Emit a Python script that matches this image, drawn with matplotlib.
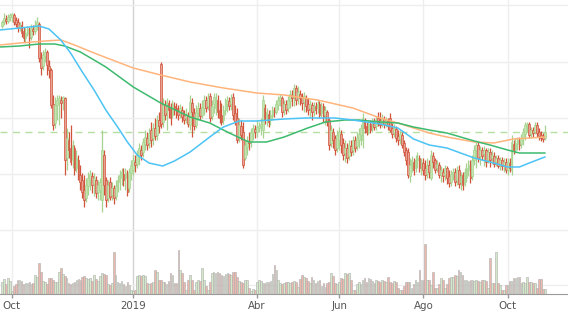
import numpy as np
import pandas as pd
import matplotlib
matplotlib.use("Agg")
import matplotlib.pyplot as plt

# trading calendar (Spanish market holidays removed)
holidays = ["2018-12-24", "2018-12-25", "2018-12-26", "2018-12-31",
            "2019-01-01", "2019-04-19", "2019-04-22", "2019-05-01"]
dates = pd.bdate_range("2018-09-24", "2019-10-28", freq="C", holidays=holidays)

tick_months = ["2018-10", "2019-01", "2019-04", "2019-06", "2019-08", "2019-10"]
tick_labels = ["Oct", "2019", "Abr", "Jun", "Ago", "Oct"]

opens = [
    27.4, 27.8, 28.1, 27.9, 28.3,
    28.3, 28.5, 28.0, 27.8, 27.3, 27.5, 26.9, 26.2, 26.6, 27.0, 26.3, 27.1, 26.9, 27.4, 27.6, 24.2, 23.4, 24.4, 24.8, 23.4, 23.0, 19.6, 17.7,
    19.5, 19.8, 20.0, 20.0, 20.2, 14.2, 16.0, 15.2, 14.0, 15.2, 13.2, 14.0, 12.5, 12.0, 11.0, 10.2, 11.4, 12.0, 12.4, 11.6, 12.0, 10.8,
    11.0, 10.0, 14.5, 12.0, 10.2, 11.8, 10.5, 11.2, 10.4, 11.2, 11.8, 12.2, 12.6, 12.2, 12.6, 11.2, 12.7,
    13.0, 13.8, 13.6, 14.4, 15.0, 14.8, 15.6, 16.2, 15.7, 17.0, 16.2, 17.2, 16.5, 18.0, 23.6, 17.8, 19.5, 18.8, 19.7, 19.2, 18.5, 19.4,
    19.2, 19.0, 18.7, 19.0, 18.5, 18.2, 18.4, 17.5, 19.7, 18.7, 17.5, 18.7, 19.2, 18.5, 19.2, 20.0, 19.4, 20.4, 18.4, 19.6,
    19.2, 20.0, 19.0, 18.5, 18.0, 19.0, 19.6, 19.9, 19.6, 20.3, 18.7, 18.2, 16.2, 17.4, 16.8, 14.2, 15.3, 15.9, 15.8, 16.7, 17.1,
    16.8, 17.2, 17.4, 17.0, 19.2, 18.2, 18.6, 18.0, 18.4, 18.9, 18.8, 19.5, 20.0, 20.2, 19.0, 19.6, 19.2, 19.9, 20.5, 20.3,
    21.2, 20.2, 20.6, 20.3, 19.8, 20.2, 19.6, 19.2, 19.5, 19.0, 19.4, 19.2, 19.6, 18.7, 19.4, 18.5, 18.8, 18.0, 15.7, 16.8, 16.2, 15.2,
    16.0, 16.6, 15.7, 14.7, 15.2, 14.4, 15.4, 15.0, 16.0, 15.4, 16.0, 16.5, 16.0, 18.0, 17.4, 17.0, 17.6, 17.2, 17.8, 17.4,
    18.2, 18.0, 17.7, 18.1, 17.7, 17.9, 18.2, 17.2, 16.7, 17.1, 16.4, 16.1, 16.5, 15.7, 15.0, 14.8, 12.4, 13.4, 13.8, 13.2, 14.0, 14.2, 13.4,
    13.7, 13.2, 12.6, 13.5, 12.2, 14.4, 14.0, 13.2, 13.5, 12.5, 12.8, 12.5, 13.2, 12.4, 11.8, 12.6, 12.8, 12.0, 13.0, 11.8, 12.5, 11.6,
    12.2, 13.0, 13.5, 12.4, 14.0, 15.0, 15.5, 14.4, 15.0, 14.6, 15.0, 14.0, 14.8, 14.2, 14.4, 13.8, 14.2, 13.5, 14.0, 13.5, 13.8,
    13.0, 13.7, 13.0, 15.6, 15.0, 15.6, 15.9, 15.6, 16.2, 16.6, 17.4, 17.6, 16.6, 17.0, 16.8, 17.5, 16.8, 16.5, 16.4, 16.2,
]
highs = [
    28.0, 28.7, 28.5, 28.6, 28.7,
    28.7, 28.7, 28.3, 28.2, 27.8, 27.9, 27.3, 27.2, 27.4, 27.3, 27.6, 27.5, 28.0, 28.3, 27.8, 24.8, 25.0, 25.2, 25.0, 24.0, 23.2, 20.5, 20.3,
    20.5, 20.5, 20.4, 20.4, 20.3, 17.2, 16.8, 17.5, 16.0, 15.5, 15.0, 14.5, 13.5, 12.7, 12.5, 12.2, 12.8, 13.0, 12.8, 12.7, 12.4, 12.0,
    12.2, 17.0, 15.0, 12.3, 12.0, 12.3, 11.8, 11.5, 12.0, 12.5, 13.0, 13.2, 13.2, 13.2, 13.0, 13.2, 14.0,
    14.5, 14.5, 15.0, 15.7, 15.5, 16.2, 17.0, 16.8, 17.2, 17.8, 17.7, 18.2, 18.5, 18.8, 23.8, 20.2, 20.0, 20.2, 20.0, 19.7, 20.0, 19.8,
    19.7, 19.5, 19.6, 19.4, 19.0, 19.2, 18.8, 20.5, 20.2, 19.2, 19.5, 19.8, 19.7, 20.0, 20.5, 20.4, 20.7, 20.7, 20.0, 20.7,
    20.7, 20.5, 20.0, 19.7, 19.5, 20.2, 20.4, 20.3, 20.6, 20.7, 19.5, 19.2, 18.2, 18.0, 17.8, 16.0, 16.4, 16.8, 17.2, 17.6, 17.5,
    18.0, 17.8, 18.2, 20.5, 19.6, 19.2, 19.0, 19.0, 19.4, 19.3, 20.0, 20.4, 20.6, 20.4, 20.0, 20.0, 20.4, 21.0, 21.0, 21.6,
    21.5, 21.4, 21.0, 20.7, 20.8, 20.5, 20.2, 20.0, 19.8, 19.8, 19.8, 20.0, 19.9, 19.8, 19.7, 19.4, 19.0, 18.2, 17.5, 17.2, 16.5, 17.0,
    17.3, 17.0, 16.2, 16.0, 15.7, 16.0, 16.0, 16.4, 16.4, 16.8, 17.2, 17.6, 18.7, 18.2, 17.8, 18.0, 18.0, 18.2, 18.2, 18.4,
    18.8, 18.8, 18.6, 18.4, 18.3, 18.2, 18.7, 17.7, 17.6, 17.4, 17.0, 17.0, 16.8, 16.0, 15.3, 15.2, 14.2, 14.4, 14.2, 14.5, 14.8, 14.5, 14.2,
    14.2, 14.0, 14.2, 14.0, 15.0, 14.8, 14.2, 14.0, 13.8, 13.4, 13.2, 13.5, 13.4, 13.0, 13.0, 13.2, 13.2, 13.4, 13.5, 12.8, 12.8, 13.2,
    13.7, 14.0, 14.0, 14.5, 15.5, 15.8, 15.8, 15.4, 15.3, 15.4, 15.2, 15.2, 15.2, 15.0, 14.8, 14.5, 14.5, 14.3, 14.3, 14.2, 14.2,
    14.2, 14.2, 16.5, 16.0, 16.2, 16.3, 16.3, 16.6, 17.2, 17.8, 17.8, 17.8, 17.3, 17.3, 17.8, 17.8, 17.2, 16.9, 16.7, 17.5,
]
lows = [
    27.2, 27.5, 27.6, 27.7, 27.9,
    27.8, 27.5, 27.3, 26.8, 26.9, 26.3, 25.8, 25.7, 26.4, 25.2, 26.0, 26.5, 26.6, 27.0, 23.8, 22.5, 23.0, 23.8, 22.5, 22.2, 19.2, 17.0, 17.2,
    18.0, 17.5, 18.2, 19.0, 12.5, 13.0, 14.2, 13.5, 13.2, 12.5, 12.8, 12.0, 11.0, 10.2, 9.3, 9.8, 10.5, 11.0, 10.7, 10.4, 10.2, 10.0,
    10.0, 8.8, 10.5, 9.3, 9.8, 10.0, 10.0, 9.6, 10.0, 10.8, 11.0, 11.5, 11.4, 11.0, 10.4, 10.8, 12.0,
    12.5, 12.8, 13.2, 13.5, 14.0, 14.3, 15.0, 15.0, 15.2, 15.3, 15.5, 16.0, 16.0, 16.7, 17.2, 17.3, 18.0, 17.0, 18.2, 17.5, 18.2, 18.5,
    18.2, 18.0, 18.2, 17.8, 17.6, 17.7, 17.3, 17.0, 16.3, 17.0, 17.2, 18.0, 18.0, 18.2, 18.5, 18.8, 19.0, 17.8, 18.0, 18.7,
    18.5, 18.2, 17.7, 17.5, 17.6, 18.5, 18.8, 19.0, 19.0, 18.0, 17.5, 15.7, 15.8, 16.0, 13.2, 14.0, 14.5, 15.0, 15.3, 16.0, 16.2,
    16.3, 16.8, 16.5, 16.2, 17.6, 17.4, 17.3, 17.5, 18.0, 18.3, 18.6, 19.0, 19.4, 18.3, 18.5, 18.6, 18.8, 19.2, 19.4, 19.4,
    19.5, 19.6, 19.5, 19.0, 18.8, 18.8, 18.5, 18.3, 18.0, 18.4, 18.6, 18.7, 18.2, 18.3, 17.8, 17.5, 17.4, 15.0, 15.3, 15.2, 14.5, 14.8,
    15.0, 14.7, 14.0, 13.8, 13.7, 14.0, 14.4, 14.5, 14.8, 15.0, 15.2, 15.5, 15.2, 16.7, 16.5, 16.6, 16.7, 16.8, 17.0, 17.0,
    17.4, 17.2, 17.3, 17.2, 17.3, 17.0, 16.8, 16.2, 16.3, 15.8, 15.5, 15.6, 15.2, 14.4, 13.5, 12.2, 11.8, 12.8, 12.5, 12.8, 13.2, 12.8, 12.5,
    12.5, 12.0, 12.2, 12.2, 12.0, 13.2, 12.7, 12.8, 12.2, 11.8, 11.8, 12.0, 11.6, 11.3, 11.4, 12.0, 11.4, 11.5, 11.2, 11.0, 11.0, 11.4,
    11.8, 12.4, 11.7, 12.0, 13.5, 13.2, 13.8, 13.5, 14.0, 13.4, 13.3, 13.7, 13.3, 13.6, 13.3, 13.4, 13.2, 13.0, 13.0, 12.8, 12.7,
    12.5, 12.8, 12.5, 14.6, 14.7, 15.0, 15.0, 15.2, 15.5, 16.0, 16.8, 16.2, 16.2, 16.3, 16.6, 16.3, 16.0, 15.9, 15.8, 16.0,
]
closes = [
    27.8, 28.2, 27.9, 28.3, 28.5,
    28.6, 27.8, 27.6, 27.2, 27.5, 26.7, 26.2, 26.7, 27.1, 26.2, 27.2, 26.9, 27.5, 27.8, 24.2, 23.2, 24.5, 24.8, 23.5, 23.0, 19.5, 17.5, 19.5,
    20.0, 20.2, 19.7, 20.3, 14.0, 16.2, 15.0, 13.8, 15.5, 13.0, 14.2, 12.5, 11.8, 10.8, 10.0, 11.5, 12.2, 12.6, 11.5, 12.2, 10.7, 11.5,
    11.8, 15.0, 11.5, 10.0, 11.5, 10.3, 11.2, 10.2, 11.4, 12.0, 12.5, 12.8, 12.0, 12.7, 10.8, 12.8, 13.5,
    14.0, 13.5, 14.5, 15.2, 14.5, 15.8, 16.3, 15.5, 16.7, 16.0, 17.2, 16.4, 18.0, 17.4, 17.6, 19.5, 18.5, 19.8, 19.0, 18.2, 19.6, 19.0,
    18.7, 18.5, 19.2, 18.3, 18.0, 18.6, 17.6, 19.8, 18.8, 17.4, 18.8, 19.2, 18.4, 19.3, 20.0, 19.2, 20.2, 18.2, 19.4, 20.3,
    20.0, 18.8, 18.2, 17.8, 19.0, 19.7, 20.0, 19.4, 20.2, 18.5, 17.8, 16.0, 17.5, 16.5, 13.5, 15.5, 16.0, 15.7, 16.8, 17.2, 16.8,
    17.3, 17.4, 17.6, 20.0, 18.0, 18.8, 17.8, 18.5, 19.0, 18.8, 19.6, 20.0, 20.3, 18.8, 19.6, 19.0, 20.0, 20.6, 20.2, 21.2,
    20.0, 20.8, 20.2, 19.7, 20.4, 19.4, 19.0, 19.6, 18.8, 19.4, 19.0, 19.6, 18.5, 19.4, 18.3, 19.0, 17.8, 15.5, 17.0, 16.0, 15.0, 16.5,
    16.8, 15.5, 14.5, 15.2, 14.2, 15.5, 14.8, 16.0, 15.2, 16.2, 16.6, 17.2, 18.2, 17.2, 16.8, 17.6, 17.0, 17.8, 17.3, 18.0,
    17.8, 17.5, 18.2, 17.6, 18.0, 17.4, 17.0, 16.6, 17.2, 16.2, 16.0, 16.6, 15.5, 14.8, 14.0, 12.5, 13.5, 14.0, 13.0, 14.0, 14.2, 13.2, 13.8,
    13.0, 12.5, 13.5, 12.8, 14.5, 13.8, 13.0, 13.6, 12.5, 13.0, 12.4, 13.2, 12.2, 11.7, 12.6, 12.8, 11.8, 13.0, 11.6, 12.4, 11.5, 12.8,
    13.2, 13.5, 12.2, 14.0, 15.0, 15.5, 14.2, 15.0, 14.4, 15.0, 13.8, 14.8, 14.0, 14.5, 13.6, 14.2, 13.4, 14.0, 13.4, 13.8, 13.0,
    13.8, 13.2, 15.8, 15.0, 15.7, 16.0, 15.5, 16.2, 16.8, 17.5, 17.6, 16.5, 17.0, 16.7, 17.5, 16.7, 16.4, 16.2, 16.1, 16.8,
]
# volume in millions
volumes = [
    1.2, 1.5, 1.0, 1.6, 1.3,
    0.3, 0.8, 1.0, 1.4, 1.4, 1.3, 1.0, 1.1, 1.1, 1.2, 1.0, 1.1, 1.9, 1.7, 3.1, 2.2, 1.3, 1.2, 1.0, 1.6, 1.6, 1.4, 1.2,
    1.2, 2.2, 2.6, 2.0, 1.8, 1.6, 1.1, 1.0, 1.1, 1.2, 1.4, 1.5, 1.4, 1.7, 1.8, 1.6, 1.5, 1.6, 1.3, 1.9, 1.5, 1.3,
    1.8, 2.1, 2.0, 1.9, 1.0, 0.9, 1.1, 4.2, 1.9, 1.2, 1.1, 1.3, 1.0, 0.8, 1.2, 0.9, 0.4,
    0.3, 0.4, 1.8, 1.9, 1.8, 1.9, 1.8, 1.1, 1.0, 1.1, 1.2, 2.4, 2.2, 1.4, 1.4, 1.2, 1.2, 1.0, 1.3, 2.1, 1.9, 1.1,
    1.1, 4.4, 2.4, 2.1, 1.2, 0.4, 1.4, 1.9, 1.4, 0.4, 1.2, 1.4, 1.3, 2.6, 1.4, 0.8, 0.4, 1.2, 2.1, 2.2,
    2.1, 2.2, 2.1, 1.9, 1.8, 2.0, 2.1, 2.0, 1.9, 2.2, 2.2, 1.7, 1.3, 1.2, 1.1, 1.4, 1.4, 0.6, 0.3, 0.5, 0.4,
    1.2, 1.4, 1.3, 1.1, 1.1, 1.2, 1.2, 1.3, 2.0, 2.9, 2.4, 1.4, 1.1, 1.0, 1.1, 1.2, 1.2, 1.1, 1.2, 1.3,
    1.2, 0.7, 1.5, 1.9, 1.7, 1.6, 1.3, 1.1, 1.7, 1.4, 1.1, 1.3, 1.4, 0.8, 1.1, 0.7, 1.1, 1.2, 2.1, 1.8, 1.1, 1.0,
    1.2, 1.6, 1.5, 2.1, 2.0, 2.1, 1.4, 0.4, 0.4, 1.0, 1.2, 1.0, 1.4, 1.6, 1.2, 1.6, 1.5, 1.3, 1.1, 1.4,
    1.3, 1.2, 1.4, 1.3, 1.2, 1.7, 1.2, 1.1, 1.3, 1.2, 0.6, 0.4, 0.4, 0.8, 1.2, 1.2, 1.2, 0.6, 1.0, 1.4, 1.2, 2.4, 1.4,
    1.4, 5.0, 1.4, 1.4, 0.9, 2.2, 0.6, 0.6, 1.0, 1.6, 1.4, 0.6, 1.0, 1.6, 1.7, 1.7, 1.9, 1.8, 2.4, 2.2, 1.9, 1.4,
    1.4, 1.3, 1.4, 1.4, 1.3, 1.4, 1.3, 1.2, 1.4, 1.4, 1.3, 0.6, 3.6, 1.1, 1.1, 4.2, 1.1, 0.9, 0.4, 0.4, 0.9,
    0.9, 1.3, 1.3, 1.6, 1.6, 1.7, 1.7, 1.1, 1.2, 1.1, 1.7, 1.2, 1.2, 1.1, 1.1, 0.6, 1.5, 1.5, 0.5, 0.5,
]

# moving averages (trading-day index, price)
ma_fast_idx = [-1, 9, 19, 24, 30, 35, 41, 47, 53, 59, 64, 69, 75, 82, 88, 96, 106, 113, 121, 130,
               144, 155, 170, 179, 193, 202, 210, 218, 227, 241, 249, 258, 264, 269, 277]
ma_fast = [27.0, 27.2, 27.4, 27.1, 26.0, 24.7, 22.8, 21.0, 19.0, 17.3, 15.8, 14.5, 13.7, 13.4, 13.9,
           14.8, 16.3, 17.3, 17.9, 17.9, 18.1, 18.2, 18.2, 18.0, 17.6, 17.2, 16.1, 15.5, 15.2, 14.2,
           13.8, 13.3, 13.3, 13.7, 14.3]
ma_mid_idx = [-1, 9, 19, 27, 32, 40, 47, 53, 67, 81, 96, 106, 116, 126, 135, 144, 156, 165, 175,
              182, 193, 202, 210, 218, 227, 241, 249, 258, 264, 277]
ma_mid = [25.3, 25.4, 25.6, 25.6, 25.4, 24.8, 24.0, 23.3, 21.3, 19.7, 18.3, 17.7, 16.7, 15.8, 15.8,
          16.3, 17.2, 17.8, 18.0, 18.0, 17.8, 17.7, 17.3, 17.0, 16.7, 15.9, 15.5, 15.0, 14.7, 14.7]
ma_slow_idx = [-1, 9, 22, 30, 37, 47, 67, 81, 96, 113, 130, 144, 161, 179, 193, 202, 210, 218, 227,
               241, 251, 261, 277]
ma_slow = [25.5, 25.7, 25.9, 26.0, 25.5, 24.7, 23.2, 22.5, 21.8, 21.2, 20.7, 20.5, 20.0, 19.2, 18.2,
           17.7, 17.2, 16.7, 16.3, 15.8, 15.7, 16.1, 16.3]

price_grid = [7.0, 12.6, 18.2, 23.8, 29.5]
vol_grid = [0.9]


def main():
    o = np.array(opens)
    h = np.array(highs)
    l = np.array(lows)
    c = np.array(closes)
    v = np.array(volumes)
    n = len(c)
    x = np.arange(n)
    up = c >= o

    fig = plt.figure(figsize=(5.68, 3.14), dpi=100)
    ax = fig.add_axes([0, 74 / 314, 1, 240 / 314])
    axv = fig.add_axes([0, 20 / 314, 1, 54 / 314], sharex=ax)

    # month ticks
    d = dates[:n]
    ticks = []
    for m in tick_months:
        p = pd.Period(m)
        ticks.append(int(np.argmax((d.year == p.year) & (d.month == p.month))))

    for a in (ax, axv):
        for t, lab in zip(ticks, tick_labels):
            col = "#d2d2d2" if lab == "2019" else "#eeeeee"
            a.axvline(t, color=col, lw=1, zorder=0)
    for g in price_grid:
        ax.axhline(g, color="#eeeeee", lw=1, zorder=0)
    for g in vol_grid:
        axv.axhline(g, color="#eeeeee", lw=1, zorder=0)

    # candles
    edge = np.where(up, "#a6d490", "#d0533a")
    face = np.where(up, "#c4e5b2", "#e8a293")
    ax.vlines(x, l, h, colors=edge, lw=0.9, zorder=2)
    body = np.maximum(np.abs(c - o), 0.06)
    ax.bar(x, body, bottom=np.minimum(o, c), width=0.9, color=face,
           edgecolor=edge, linewidth=0.5, zorder=3)

    # moving averages
    ax.plot(ma_slow_idx, ma_slow, color="#ffb47c", lw=1.1, zorder=4)
    ax.plot(ma_mid_idx, ma_mid, color="#3dba6e", lw=1.1, zorder=4)
    ax.plot(ma_fast_idx, ma_fast, color="#4cc3f5", lw=1.1, zorder=4)

    # last price line
    ax.axhline(c[-1], color="#b5dfa3", lw=1, ls=(0, (5, 4)), zorder=1)

    # volume
    vface = np.where(up, "#d3e7c9", "#ecb8ae")
    axv.bar(x, v, width=0.85, color=vface, edgecolor="#adadad", linewidth=0.4, zorder=2)

    ax.set_xlim(-1.0, 288.8)
    ax.set_ylim(6, 30)
    axv.set_ylim(0, 5.4)

    for s in ax.spines.values():
        s.set_visible(False)
    for k, s in axv.spines.items():
        s.set_visible(k == "bottom")
    axv.spines["bottom"].set_color("#9a9a9a")
    ax.tick_params(left=False, bottom=False, labelleft=False, labelbottom=False)
    axv.set_yticks([])
    axv.set_xticks(ticks)
    axv.set_xticklabels(tick_labels)
    axv.tick_params(axis="x", length=3, width=1, color="#9a9a9a", pad=2,
                    labelsize=7.4, labelcolor="#555555")

    fig.savefig("out.png", dpi=100)


if __name__ == "__main__":
    main()
